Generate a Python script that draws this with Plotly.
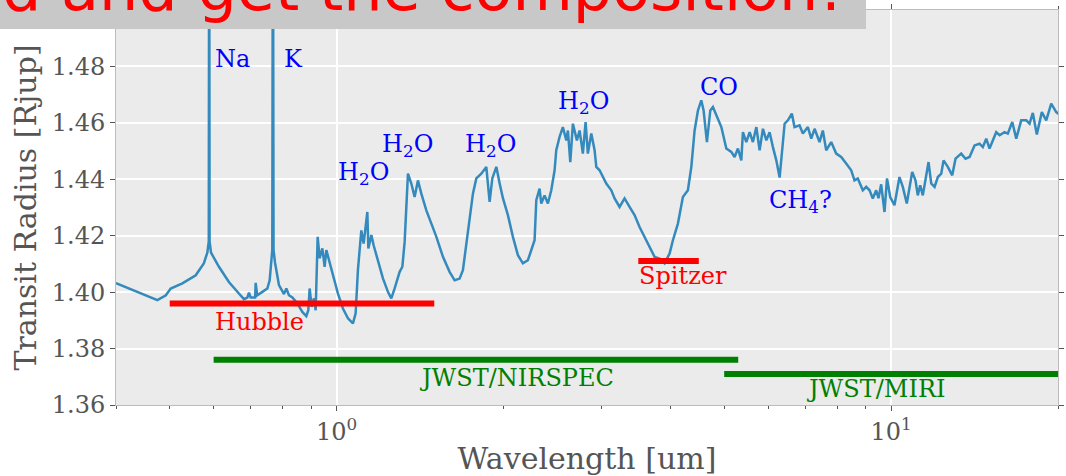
import plotly.graph_objects as go
import math

# Model transmission spectrum: wavelength [um] and transit radius [Rjup]
wavelength_um = [
    0.400, 0.475, 0.492, 0.502, 0.527, 0.557, 0.576, 0.5845, 0.5880, 0.5890,
    0.5900, 0.5935, 0.6134, 0.6393, 0.6664, 0.6805, 0.6902, 0.6948, 0.6997, 0.7129,
    0.7144, 0.7190, 0.7346, 0.7499, 0.7572, 0.7619, 0.7655, 0.7675, 0.7695, 0.7740,
    0.7870, 0.8035, 0.8115, 0.8203, 0.8320, 0.8495, 0.8672, 0.8817, 0.8891, 0.8940,
    0.9014, 0.9101, 0.9166, 0.9242, 0.9319, 0.9424, 0.9514, 0.9581, 0.9714, 0.9847,
    1.0054, 1.0265, 1.0481, 1.0700, 1.0821, 1.0924, 1.1079, 1.1186, 1.1360, 1.1407,
    1.1550, 1.1661, 1.1871, 1.2120, 1.2374, 1.2549, 1.2724, 1.2991, 1.3138, 1.3263,
    1.3447, 1.3637, 1.3824, 1.4016, 1.4215, 1.4513, 1.4820, 1.5131, 1.5551, 1.5986,
    1.6323, 1.6665, 1.6894, 1.7135, 1.7371, 1.7612, 1.7861, 1.8236, 1.8618, 1.8877,
    1.9088, 1.9409, 1.9675, 1.9948, 2.0366, 2.0793, 2.1229, 2.1674, 2.2128, 2.2442,
    2.2751, 2.2914, 2.3227, 2.3393, 2.3714, 2.4044, 2.4384, 2.4722, 2.4894, 2.5240,
    2.5586, 2.5954, 2.6128, 2.6388, 2.6675, 2.7121, 2.7428, 2.7805, 2.8119, 2.8386,
    2.8794, 2.9190, 2.9399, 2.9802, 3.0217, 3.0644, 3.1287, 3.1718, 3.2382, 3.3060,
    3.3753, 3.4461, 3.5183, 3.5929, 3.6682, 3.7451, 3.8236, 3.9037, 3.9855, 4.0411,
    4.1258, 4.2122, 4.3005, 4.3623, 4.4220, 4.4834, 4.5469, 4.5901, 4.6540, 4.7198,
    4.7712, 4.8387, 4.9412, 5.0446, 5.1503, 5.2210, 5.2937, 5.3686, 5.4046, 5.4810,
    5.5574, 5.6336, 5.7145, 5.7927, 5.8732, 5.9564, 6.0378, 6.1218, 6.2084, 6.2946,
    6.3646, 6.4264, 6.5143, 6.6222, 6.6962, 6.8366, 6.9318, 7.0772, 7.1776, 7.2774,
    7.4297, 7.5314, 7.6384, 7.7983, 7.9616, 8.1283, 8.2985, 8.4737, 8.5901, 8.7096,
    8.8920, 9.0181, 9.1438, 9.2683, 9.3992, 9.4906, 9.5961, 9.6695, 9.7298, 9.8313,
    9.9632, 10.141, 10.354, 10.498, 10.674, 10.915, 11.066, 11.172, 11.285, 11.408,
    11.682, 11.814, 11.979, 12.143, 12.316, 12.434, 12.656, 12.891, 13.068, 13.381,
    13.622, 13.852, 14.142, 14.438, 14.636, 14.846, 15.050, 15.474, 15.690, 16.018,
    16.237, 16.539, 16.816, 17.168, 17.528, 17.772, 18.015, 18.316, 18.700, 19.047,
    19.446, 19.853, 20.12,
]
radius_rjup = [
    1.4032, 1.3972, 1.3989, 1.4013, 1.4031, 1.4060, 1.4102, 1.4140, 1.4180, 1.5600,
    1.4180, 1.4140, 1.4090, 1.4036, 1.3995, 1.3975, 1.3981, 1.3998, 1.3981, 1.3981,
    1.4033, 1.3989, 1.4001, 1.4013, 1.4042, 1.4106, 1.4150, 1.5600, 1.4150, 1.4106,
    1.4025, 1.3993, 1.4013, 1.3989, 1.3981, 1.3960, 1.3930, 1.3915, 1.3936, 1.4013,
    1.3948, 1.3978, 1.3936, 1.4196, 1.4120, 1.4155, 1.4090, 1.4149, 1.4102, 1.4060,
    1.3995, 1.3942, 1.3907, 1.3889, 1.3925, 1.4078, 1.4219, 1.4172, 1.4284, 1.4155,
    1.4202, 1.4166, 1.4113, 1.4049, 1.4001, 1.3978, 1.4013, 1.4072, 1.4090, 1.4178,
    1.4420, 1.4385, 1.4337, 1.4396, 1.4349, 1.4290, 1.4243, 1.4196, 1.4125, 1.4072,
    1.4042, 1.4048, 1.4078, 1.4172, 1.4261, 1.4349, 1.4403, 1.4420, 1.4444, 1.4320,
    1.4403, 1.4444, 1.4386, 1.4333, 1.4273, 1.4196, 1.4131, 1.4102, 1.4113, 1.4149,
    1.4184, 1.4326, 1.4367, 1.4314, 1.4343, 1.4314, 1.4361, 1.4432, 1.4503, 1.4550,
    1.4585, 1.4538, 1.4573, 1.4461, 1.4597, 1.4538, 1.4573, 1.4491, 1.4603, 1.4491,
    1.4562, 1.4503, 1.4444, 1.4432, 1.4408, 1.4385, 1.4361, 1.4332, 1.4302, 1.4332,
    1.4302, 1.4273, 1.4231, 1.4196, 1.4160, 1.4125, 1.4119, 1.4102, 1.4137, 1.4184,
    1.4243, 1.4337, 1.4361, 1.4444, 1.4573, 1.4644, 1.4680, 1.4644, 1.4532, 1.4644,
    1.4656, 1.4627, 1.4585, 1.4509, 1.4497, 1.4479, 1.4509, 1.4467, 1.4567, 1.4532,
    1.4567, 1.4532, 1.4585, 1.4503, 1.4579, 1.4538, 1.4567, 1.4514, 1.4467, 1.4406,
    1.4514, 1.4597, 1.4609, 1.4633, 1.4585, 1.4591, 1.4562, 1.4585, 1.4544, 1.4579,
    1.4532, 1.4573, 1.4503, 1.4532, 1.4491, 1.4479, 1.4456, 1.4432, 1.4396, 1.4403,
    1.4361, 1.4373, 1.4361, 1.4332, 1.4361, 1.4333, 1.4382, 1.4326, 1.4284, 1.4403,
    1.4337, 1.4308, 1.4408, 1.4373, 1.4314, 1.4426, 1.4396, 1.4343, 1.4379, 1.4343,
    1.4461, 1.4385, 1.4373, 1.4408, 1.4420, 1.4467, 1.4444, 1.4414, 1.4473, 1.4491,
    1.4473, 1.4479, 1.4520, 1.4526, 1.4514, 1.4544, 1.4509, 1.4567, 1.4556, 1.4567,
    1.4562, 1.4603, 1.4544, 1.4609, 1.4609, 1.4597, 1.4635, 1.4559, 1.4638, 1.4609,
    1.4668, 1.4638, 1.4630,
]

# Molecular / atomic feature labels
species_labels = ["Na", "K", "H<sub>2</sub>O", "H<sub>2</sub>O", "H<sub>2</sub>O",
                  "H<sub>2</sub>O", "CO", "CH<sub>4</sub>?"]
species_wl = [0.6, 0.8, 1.0, 1.2, 1.7, 2.5, 4.5, 6.0]
species_r = [1.48, 1.48, 1.44, 1.45, 1.45, 1.465, 1.47, 1.43]

# Instrument wavelength coverage
instruments = ["Hubble", "Spitzer", "JWST/NIRSPEC", "JWST/MIRI"]
inst_start = [0.5, 3.5, 0.6, 5.0]
inst_end = [1.5, 4.5, 5.3, 20.0]
inst_level = [1.396, 1.411, 1.376, 1.371]
inst_label_wl = [0.6, 3.5, 1.4, 7.0]
inst_label_r = [1.387, 1.403, 1.367, 1.363]
inst_colors = ["#ff0000", "#ff0000", "#008000", "#008000"]

# Axis ticks
x_tickvals = [1, 10]
x_ticktext = ["10<sup>0</sup>", "10<sup>1</sup>"]
x_minor_tickvals = [0.4, 0.5, 0.6, 0.7, 0.8, 0.9, 2, 3, 4, 5, 6, 7, 8, 9, 20]
y_tickvals = [1.36, 1.38, 1.40, 1.42, 1.44, 1.46, 1.48]
y_ticktext = ["1.36", "1.38", "1.40", "1.42", "1.44", "1.46", "1.48"]

headline = "d and get the composition!"

SERIF = "DejaVu Serif"
GREY = "#555555"
FS = 24

fig = go.Figure()

fig.add_trace(go.Scatter(
    x=wavelength_um, y=radius_rjup, mode="lines",
    line=dict(color="#348ABD", width=2.5), showlegend=False, hoverinfo="skip",
))

for name, x0, x1, lev, col in zip(instruments, inst_start, inst_end, inst_level, inst_colors):
    fig.add_trace(go.Scatter(
        x=[x0, x1], y=[lev, lev], mode="lines",
        line=dict(color=col, width=6), showlegend=False, hoverinfo="skip", name=name,
    ))

# baseline-anchored text: top of box sits one ascent above the baseline
def baseline_shift(size):
    return 1 + 0.928 * size

for txt, wl, r in zip(species_labels, species_wl, species_r):
    fig.add_annotation(
        x=math.log10(wl), y=r, xref="x", yref="y", text=txt, showarrow=False,
        xanchor="left", yanchor="top", yshift=baseline_shift(FS), xshift=-1,
        font=dict(family=SERIF, size=FS, color="#0000ff"),
    )

for txt, wl, r, col in zip(instruments, inst_label_wl, inst_label_r, inst_colors):
    fig.add_annotation(
        x=math.log10(wl), y=r, xref="x", yref="y", text=txt, showarrow=False,
        xanchor="left", yanchor="top", yshift=baseline_shift(FS), xshift=-1,
        font=dict(family=SERIF, size=FS, color=col),
    )

# Grey banner across the top with the headline
fig.add_shape(
    type="rect", xref="paper", yref="paper",
    x0=-0.2, x1=0.7962, y0=0.9519, y1=1.2,
    fillcolor="#c8c8c8", line=dict(width=0), layer="above",
)
fig.add_annotation(
    x=0.7739, y=0.9560, xref="paper", yref="paper", text=headline, showarrow=False,
    xanchor="right", yanchor="bottom",
    font=dict(family="DejaVu Sans", size=62, color="#ff0000"),
)

fig.update_layout(
    width=1066, height=476,
    margin=dict(l=116, r=8, t=10, b=71, autoexpand=False),
    paper_bgcolor="white", plot_bgcolor="#ebebeb",
    font=dict(family=SERIF, size=FS, color=GREY),
    showlegend=False,
)

fig.update_xaxes(
    type="log", range=[math.log10(0.4), math.log10(20)], automargin=False,
    tickmode="array", tickvals=x_tickvals, ticktext=x_ticktext,
    ticks="outside", ticklen=5, tickwidth=1, tickcolor=GREY,
    tickfont=dict(family=SERIF, size=FS, color=GREY),
    showline=True, linecolor="#bcbcbc", linewidth=1, mirror="ticks",
    showgrid=True, gridcolor="white", gridwidth=1.5, zeroline=False,
    minor=dict(tickmode="array", tickvals=x_minor_tickvals, ticks="outside",
               ticklen=3, tickcolor=GREY, showgrid=False),
    title=dict(text="Wavelength [um]", font=dict(family=SERIF, size=30, color=GREY), standoff=6),
)
fig.update_yaxes(
    range=[1.36, 1.50], automargin=False,
    tickmode="array", tickvals=y_tickvals, ticktext=y_ticktext,
    ticks="outside", ticklen=5, tickwidth=1, tickcolor=GREY,
    tickfont=dict(family=SERIF, size=FS, color=GREY),
    showline=True, linecolor="#bcbcbc", linewidth=1, mirror="ticks",
    showgrid=True, gridcolor="white", gridwidth=1.5, zeroline=False,
    title=dict(text="Transit Radius [Rjup]", font=dict(family=SERIF, size=30, color=GREY), standoff=6),
)

fig.write_html("out.html")
